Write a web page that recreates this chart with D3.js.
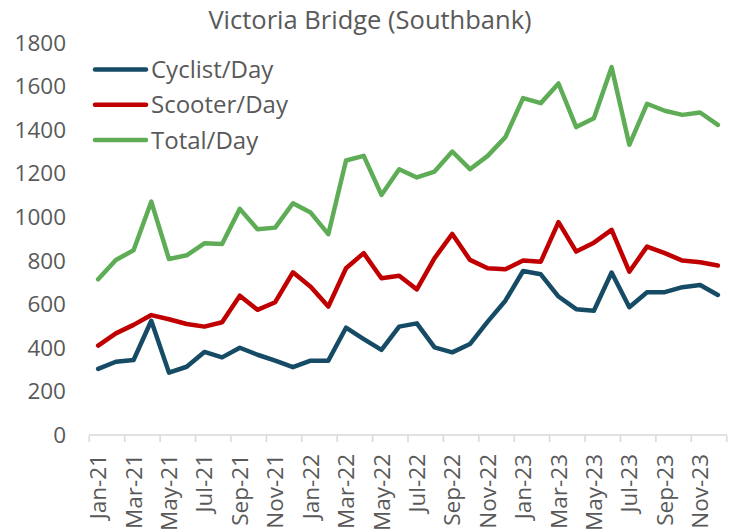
<!DOCTYPE html>
<html><head><meta charset="utf-8">
<script src="https://cdn.jsdelivr.net/npm/d3@7"></script>
<style>body{margin:0;background:#fff;} text{font-family:"Open Sans",sans-serif;fill:#595959;}</style>
</head><body><svg id="c" width="743" height="531"></svg>
<script>
const months = ["Jan-21","Feb-21","Mar-21","Apr-21","May-21","Jun-21","Jul-21","Aug-21","Sep-21","Oct-21","Nov-21","Dec-21",
"Jan-22","Feb-22","Mar-22","Apr-22","May-22","Jun-22","Jul-22","Aug-22","Sep-22","Oct-22","Nov-22","Dec-22",
"Jan-23","Feb-23","Mar-23","Apr-23","May-23","Jun-23","Jul-23","Aug-23","Sep-23","Oct-23","Nov-23","Dec-23"];
const cyclist = [303,336,344,524,286,313,381,356,400,368,341,311,341,341,492,440,390,497,512,402,379,417,520,616,752,737,635,577,570,745,586,655,655,678,688,642];
const scooter = [410,466,505,550,531,509,497,517,639,574,609,746,680,589,765,834,719,730,668,811,922,803,765,760,800,795,976,841,882,941,749,864,834,800,792,777];
const total = [714,803,847,1070,807,824,879,876,1037,944,951,1063,1020,921,1259,1280,1101,1219,1181,1208,1300,1219,1280,1366,1545,1522,1612,1412,1453,1687,1331,1519,1487,1468,1479,1422];
const yTicks = [0,200,400,600,800,1000,1200,1400,1600,1800];
const seriesNames = ["Cyclist/Day","Scooter/Day","Total/Day"];
const colors = ["#154B64","#C00000","#5EAD56"];

const svg = d3.select("#c");
const x = d3.scaleBand().domain(months).range([89.3,726.7]);
const y = d3.scaleLinear().domain([0,1800]).range([435,42.5]);

svg.append("text").attr("x",370).attr("y",29).attr("text-anchor","middle").style("font-size","25.5px").text("Victoria Bridge (Southbank)");

// y labels
svg.selectAll(".yl").data(yTicks).enter().append("text")
  .attr("x",66).attr("y",d=>y(d)).attr("dy","0.36em").attr("text-anchor","end")
  .style("font-size","22.5px").text(d=>d);

// x axis
const ax = svg.append("g");
ax.append("line").attr("x1",x.range()[0]).attr("x2",x.range()[1]).attr("y1",435).attr("y2",435).attr("stroke","#D9D9D9").attr("stroke-width",1.5);
const tickIdx = d3.range(0,37,2);
ax.selectAll(".tk").data(tickIdx).enter().append("line")
  .attr("x1",i=>x.range()[0]+i*x.bandwidth()).attr("x2",i=>x.range()[0]+i*x.bandwidth())
  .attr("y1",435).attr("y2",442).attr("stroke","#D9D9D9").attr("stroke-width",1.5);
ax.selectAll(".xl").data(months.filter((m,i)=>i%2===0)).enter().append("text")
  .attr("transform",d=>`translate(${x(d)+x.bandwidth()/2},454) rotate(-90)`)
  .attr("dy","0.36em").attr("text-anchor","end").style("font-size","22.5px").text(d=>d);

const line = d3.line().x((d,i)=>x(months[i])+x.bandwidth()/2).y(d=>y(d));
[cyclist,scooter,total].forEach((s,k)=>{
  svg.append("path").datum(s).attr("d",line).attr("fill","none").attr("stroke",colors[k])
    .attr("stroke-width",4.5).attr("stroke-linejoin","round").attr("stroke-linecap","round");
});

// legend
const ly = [69.5,104.7,140];
seriesNames.forEach((n,k)=>{
  svg.append("line").attr("x1",95).attr("x2",146).attr("y1",ly[k]).attr("y2",ly[k]).attr("stroke",colors[k]).attr("stroke-width",4.5).attr("stroke-linecap","round");
  svg.append("text").attr("x",151).attr("y",ly[k]).attr("dy","0.36em").style("font-size","24px").text(n);
});
</script></body></html>
